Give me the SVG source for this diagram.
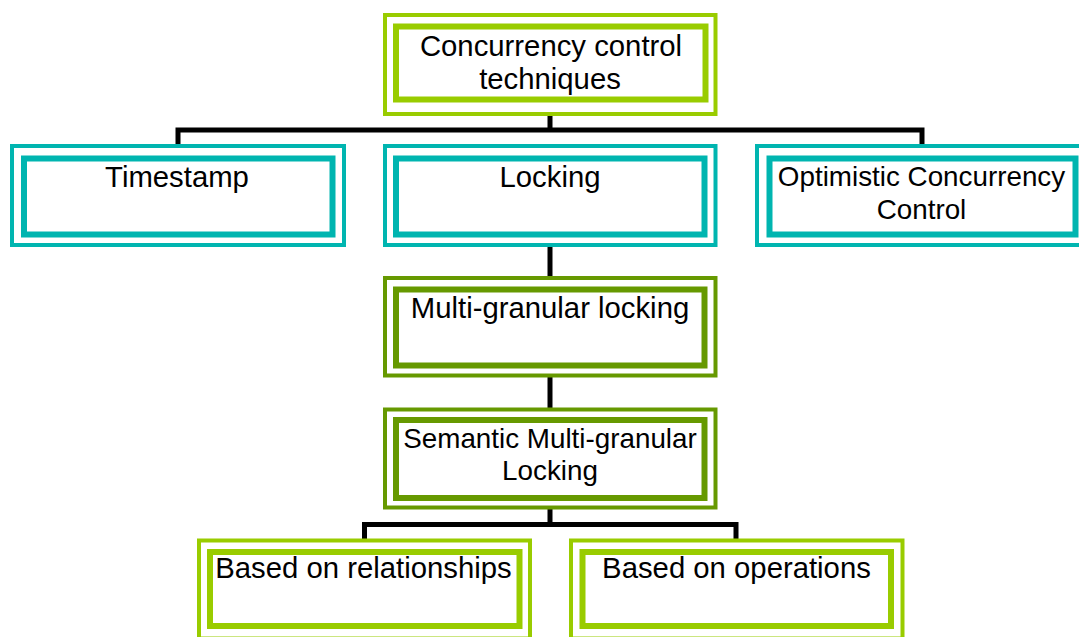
<svg xmlns="http://www.w3.org/2000/svg" width="1079" height="637" viewBox="0 0 1079 637">
  <style>
    .outer { fill: #ffffff; stroke-width: 4; }
    .inner { fill: #ffffff; stroke-width: 6; }
    .lime { stroke: #99CC00; }
    .teal { stroke: #00B5B0; }
    .olive { stroke: #669900; }
    .label { font-family: "Liberation Sans", Arimo, Arial, sans-serif; font-size: 29.3px; fill: #000000; text-anchor: middle; }
    .small { font-size: 27.8px; }
    .wire { fill: none; stroke: #000000; stroke-width: 5; stroke-linejoin: miter; }
  </style>
  <rect width="1079" height="637" fill="#ffffff"/>

  <!-- tree connectors -->
  <g id="connectors">
    <path class="wire" d="M550,114 V130 M178,146 V130 H922 V146"/>
    <path class="wire" d="M550,245 V278"/>
    <path class="wire" d="M550,376 V410"/>
    <path class="wire" d="M550,508 V524.5 M364.5,541 V524.5 H736 V541"/>
  </g>

  <g id="root">
    <rect class="outer lime" x="385" y="15" width="330.5" height="99"/>
    <rect class="inner lime" x="396" y="26.5" width="309.5" height="73"/>
    <text class="label" x="551" y="56">Concurrency control</text>
    <text class="label" x="550" y="89">techniques</text>
  </g>

  <g id="timestamp">
    <rect class="outer teal" x="12" y="146" width="332" height="99"/>
    <rect class="inner teal" x="24" y="158.5" width="308.5" height="76"/>
    <text class="label" x="177" y="187">Timestamp</text>
  </g>

  <g id="locking">
    <rect class="outer teal" x="385" y="146" width="330.5" height="99"/>
    <rect class="inner teal" x="396" y="158.5" width="308.5" height="76"/>
    <text class="label" x="550" y="187">Locking</text>
  </g>

  <g id="optimistic">
    <rect class="outer teal" x="757" y="146" width="330" height="99"/>
    <rect class="inner teal" x="769.5" y="158.5" width="306" height="76"/>
    <text class="label small" x="921.5" y="186">Optimistic Concurrency</text>
    <text class="label small" x="921.5" y="219">Control</text>
  </g>

  <g id="multigranular">
    <rect class="outer olive" x="385" y="278" width="330.5" height="97.5"/>
    <rect class="inner olive" x="396" y="289.5" width="308.5" height="76"/>
    <text class="label" x="550" y="318">Multi-granular locking</text>
  </g>

  <g id="semantic">
    <rect class="outer olive" x="385" y="409.5" width="330.5" height="98"/>
    <rect class="inner olive" x="396" y="420" width="308.5" height="78"/>
    <text class="label small" x="550" y="448">Semantic Multi-granular</text>
    <text class="label small" x="550" y="480">Locking</text>
  </g>

  <g id="relationships">
    <rect class="outer lime" x="199" y="540.5" width="331" height="98"/>
    <rect class="inner lime" x="210" y="552" width="309.5" height="74"/>
    <text class="label" x="363.5" y="578">Based on relationships</text>
  </g>

  <g id="operations">
    <rect class="outer lime" x="571" y="540.5" width="331.5" height="98"/>
    <rect class="inner lime" x="582.5" y="552" width="308.5" height="74"/>
    <text class="label" x="736.5" y="578">Based on operations</text>
  </g>
</svg>
